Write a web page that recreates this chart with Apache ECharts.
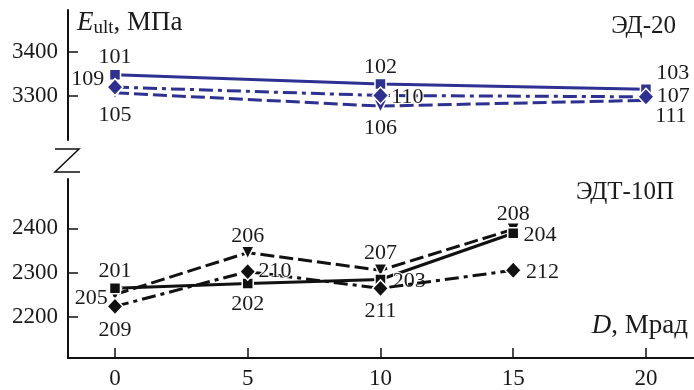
<!DOCTYPE html>
<html><head><meta charset="utf-8">
<script src="https://cdn.jsdelivr.net/npm/echarts@6/dist/echarts.min.js"></script>
<style>html,body{margin:0;padding:0;background:#fff}#c{width:694px;height:390px}</style>
</head><body><div id="c"></div>
<script>
// ---- data ----
const doses = [0, 5, 10, 15, 20];
const xTicks = [0, 5, 10, 15, 20];
const upperTicks = [3300, 3400];
const lowerTicks = [2200, 2300, 2400];

// ЭД-20 (upper)
const ed20_x = [0, 10, 20];
const ed20_square = [3348, 3327, 3315];
const ed20_diamond = [3320, 3301, 3298];
const ed20_triangle = [3307, 3277, 3290];
const ed20_square_lbl = ['101', '102', '103'];
const ed20_diamond_lbl = ['109', '110', '107'];
const ed20_triangle_lbl = ['105', '106', '111'];

// ЭДТ-10П (lower)
const edt_x = [0, 5, 10, 15];
const edt_square = [2264, 2275, 2284, 2389];
const edt_triangle = [2250, 2345, 2305, 2398];
const edt_diamond = [2223, 2302, 2264, 2305];
const edt_square_lbl = ['201', '202', '203', '204'];
const edt_triangle_lbl = ['205', '206', '207', '208'];
const edt_diamond_lbl = ['209', '210', '211', '212'];

// ---- label placement (style) ----
const P = {
  ed20_square: [['top',[0,4]],['top',[0,4]],['right',[0,-16]]],
  ed20_diamond: [['left',[2,-8]],['right',[-2,2]],['right',[-2,-1]]],
  ed20_triangle: [['bottom',[0,0]],['bottom',[0,0]],['right',[-2,16]]],
  edt_square: [['top',[0,4]],['bottom',[0,-1]],['right',[2,2]],['right',[0,2]]],
  edt_triangle: [['left',[4,4]],['top',[0,6]],['top',[0,5]],['top',[0,7]]],
  edt_diamond: [['bottom',[0,0]],['right',[-2,0]],['bottom',[0,-1]],['right',[0,2]]]
};

const FONT = 'Liberation Serif';
const BLUE = '#2e3192';
const BLACK = '#111';
const DASH = [14, 5];
const DASHDOT = [14, 5, 4, 5];

function mk(xs, ys, lbls, pl, opt) {
  return {
    type: 'line',
    xAxisIndex: opt.grid, yAxisIndex: opt.grid,
    symbol: opt.symbol, symbolSize: opt.size, symbolRotate: opt.rotate || 0,
    z: opt.z || 2,
    lineStyle: { color: opt.color, width: 3, type: opt.dash || 'solid' },
    itemStyle: { color: opt.color, borderColor: '#fff', borderWidth: 1.5 },
    data: xs.map((x, i) => ({
      value: [x, ys[i]],
      label: {
        show: true, formatter: lbls[i], position: pl[i][0], offset: pl[i][1],
        distance: 4, fontFamily: FONT, fontSize: 22, color: '#1a1a1a',
        textBorderColor: '#fff', textBorderWidth: 2
      }
    })),
    animation: false
  };
}

const chart = echarts.init(document.getElementById('c'), null, { renderer: 'canvas' });
const xMin = -1.77, xMax = 21.81;
const axisTxt = { fontFamily: FONT, fontSize: 23, color: '#1a1a1a', formatter: v => String(v) };

chart.setOption({
  animation: false,
  backgroundColor: '#fff',
  grid: [
    { left: 68, right: 0, top: 10, height: 130 },
    { left: 68, right: 0, top: 179, height: 179 }
  ],
  xAxis: [
    { gridIndex: 0, type: 'value', min: xMin, max: xMax, show: false },
    { gridIndex: 1, type: 'value', min: xMin, max: xMax,
      axisLine: { show: true, onZero: false, lineStyle: { color: BLACK, width: 2 } },
      axisTick: { show: true, inside: true, length: 10, lineStyle: { color: BLACK, width: 1.5 }, customValues: xTicks },
      axisLabel: Object.assign({ margin: 9, customValues: xTicks }, axisTxt),
      splitLine: { show: false } }
  ],
  yAxis: [
    { gridIndex: 0, type: 'value', min: 3200, max: 3495,
      axisLine: { show: true, onZero: false, lineStyle: { color: BLACK, width: 2 } },
      axisTick: { show: true, inside: true, length: 10, lineStyle: { color: BLACK, width: 1.5 }, customValues: upperTicks },
      axisLabel: Object.assign({ margin: 10, customValues: upperTicks }, axisTxt),
      splitLine: { show: false } },
    { gridIndex: 1, type: 'value', min: 2106, max: 2512,
      axisLine: { show: true, onZero: false, lineStyle: { color: BLACK, width: 2 } },
      axisTick: { show: true, inside: true, length: 10, lineStyle: { color: BLACK, width: 1.5 }, customValues: lowerTicks },
      axisLabel: Object.assign({ margin: 10, customValues: lowerTicks }, axisTxt),
      splitLine: { show: false } }
  ],
  graphic: [
    { type: 'polyline', shape: { points: [[55, 149], [79, 149], [55, 172], [80, 172]] },
      style: { stroke: BLACK, lineWidth: 1.5, fill: null } },
    { type: 'text', left: 77, top: 9,
      style: { text: '{e|E}{s|ult}{n|, МПа}', rich: {
        e: { fontFamily: FONT, fontStyle: 'italic', fontSize: 27, fill: '#1a1a1a' },
        s: { fontFamily: FONT, fontSize: 19, fill: '#1a1a1a', padding: [11, 0, 0, 0] },
        n: { fontFamily: FONT, fontSize: 27, fill: '#1a1a1a' } } } },
    { type: 'text', right: 18, top: 14, style: { text: 'ЭД-20', fontFamily: FONT, fontSize: 25, fill: '#1a1a1a' } },
    { type: 'text', right: 20, top: 180, style: { text: 'ЭДТ-10П', fontFamily: FONT, fontSize: 25, fill: '#1a1a1a' } },
    { type: 'text', right: 6, top: 312,
      style: { text: '{d|D}{n|, Мрад}', rich: {
        d: { fontFamily: FONT, fontStyle: 'italic', fontSize: 27, fill: '#1a1a1a' },
        n: { fontFamily: FONT, fontSize: 27, fill: '#1a1a1a' } } } }
  ],
  series: [
    mk(ed20_x, ed20_triangle, ed20_triangle_lbl, P.ed20_triangle, { grid: 0, symbol: 'triangle', rotate: 180, size: 13, color: BLUE, dash: DASH }),
    mk(ed20_x, ed20_diamond, ed20_diamond_lbl, P.ed20_diamond, { grid: 0, symbol: 'diamond', size: [16, 17], color: BLUE, dash: DASHDOT, z: 3 }),
    mk(ed20_x, ed20_square, ed20_square_lbl, P.ed20_square, { grid: 0, symbol: 'rect', size: 11, color: BLUE }),
    mk(edt_x, edt_triangle, edt_triangle_lbl, P.edt_triangle, { grid: 1, symbol: 'triangle', rotate: 180, size: 13, color: BLACK, dash: DASH }),
    mk(edt_x, edt_square, edt_square_lbl, P.edt_square, { grid: 1, symbol: 'rect', size: 11, color: BLACK }),
    mk(edt_x, edt_diamond, edt_diamond_lbl, P.edt_diamond, { grid: 1, symbol: 'diamond', size: [16, 17], color: BLACK, dash: DASHDOT, z: 3 })
  ]
});
</script></body></html>
